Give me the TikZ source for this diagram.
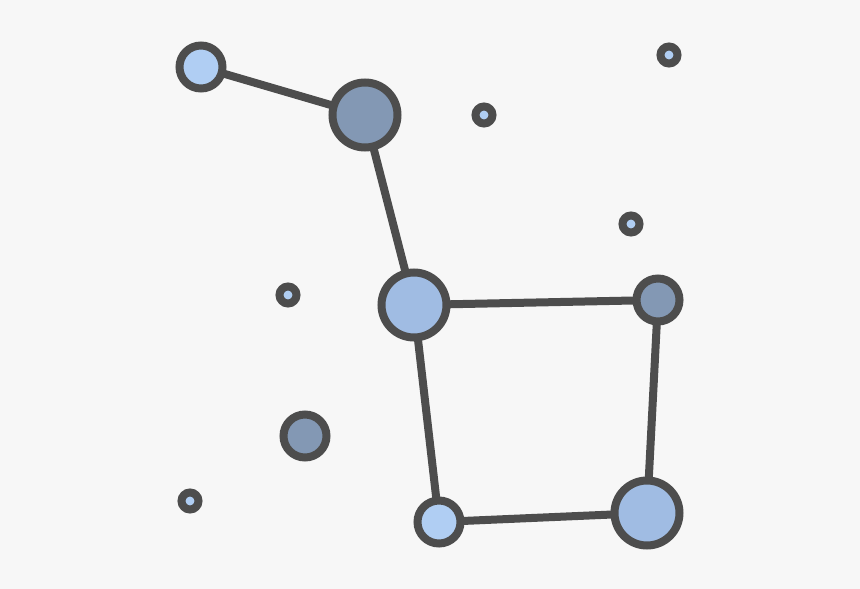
\documentclass[tikz,border=0pt]{standalone}
\definecolor{bgc}{HTML}{F7F7F7}
\definecolor{strk}{HTML}{4D4D4D}
\definecolor{lightb}{HTML}{B0CEF3}
\definecolor{midb}{HTML}{A0BCE3}
\definecolor{darkb}{HTML}{8398B4}
\begin{document}
\begin{tikzpicture}[x=1pt,y=-1pt,
  star/.style={circle,draw=strk,line width=8pt,inner sep=0pt,outer sep=0pt},
  big/.style={star,minimum size=65pt},
  mid/.style={star,minimum size=43pt},
  tiny/.style={star,minimum size=17pt,fill=lightb},
  edge/.style={draw=strk,line width=8pt}]
\fill[bgc] (0,0) rectangle (860,589);
\useasboundingbox (0,0) rectangle (860,589);
\node[mid,fill=lightb] (a) at (201,67) {};
\node[big,fill=darkb] (b) at (365,115) {};
\node[big,fill=midb] (c) at (414,305) {};
\node[mid,fill=darkb] (d) at (658,300) {};
\node[big,fill=midb] (e) at (647,513) {};
\node[mid,fill=lightb] (f) at (439,522) {};
\node[mid,fill=darkb] (g) at (305,436) {};
\node[tiny] (s1) at (484,115) {};
\node[tiny] (s2) at (669,55) {};
\node[tiny] (s3) at (631,224) {};
\node[tiny] (s4) at (288,295) {};
\node[tiny] (s5) at (190,501) {};
\draw[edge] (a) -- (b);
\draw[edge] (b) -- (c);
\draw[edge] (c) -- (d);
\draw[edge] (d) -- (e);
\draw[edge] (e) -- (f);
\draw[edge] (f) -- (c);
\end{tikzpicture}
\end{document}
